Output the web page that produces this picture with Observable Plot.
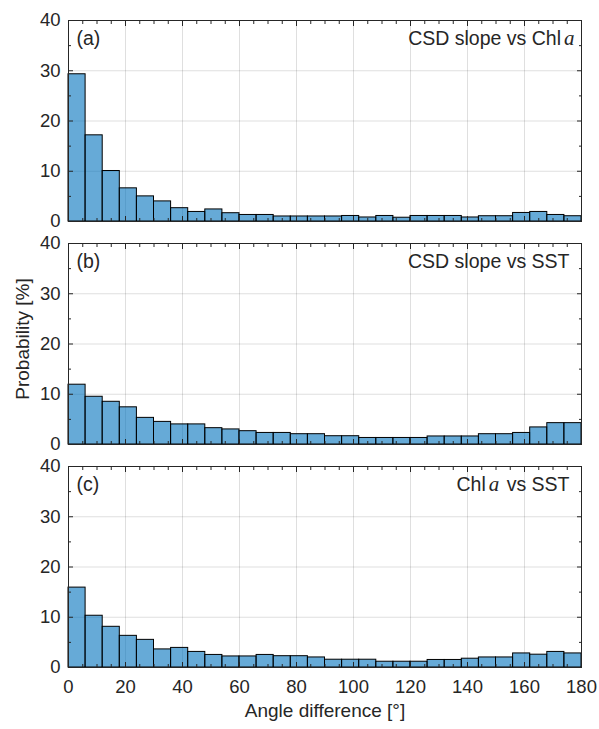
<!DOCTYPE html>
<html>
<head>
<meta charset="utf-8">
<script src="https://cdn.jsdelivr.net/npm/d3@7"></script>
<script src="https://cdn.jsdelivr.net/npm/@observablehq/plot@0.6"></script>
<style>
  html, body { margin: 0; padding: 0; background: #fff; }
</style>
</head>
<body>
<div id="chart"></div>
<script>
// ---------- data ----------
const panels = ["a", "b", "c"];
const panelTags = ["(a)", "(b)", "(c)"];
const panelTitles = ["CSD slope vs Chl|a", "CSD slope vs SST", "Chl|a| vs SST"];

const binStart = [0, 6, 12, 18, 24, 30, 36, 42, 48, 54, 60, 66, 72, 78, 84,
                  90, 96, 102, 108, 114, 120, 126, 132, 138, 144, 150, 156, 162, 168, 174];
const binWidth = 6;

// (a) CSD slope vs Chl a
const probA = [29.3, 17.15, 10.05, 6.6, 5.0, 4.0, 2.65, 1.9, 2.4, 1.65,
               1.3, 1.3, 1.0, 1.0, 1.0, 1.0, 1.1, 0.8, 1.1, 0.75,
               1.1, 1.1, 1.1, 0.8, 1.05, 1.05, 1.7, 1.9, 1.3, 1.05];
// (b) CSD slope vs SST
const probB = [11.9, 9.5, 8.5, 7.4, 5.3, 4.5, 4.0, 4.0, 3.25, 3.0,
               2.65, 2.3, 2.3, 2.05, 2.05, 1.65, 1.65, 1.3, 1.3, 1.3,
               1.3, 1.6, 1.6, 1.6, 2.05, 2.05, 2.3, 3.4, 4.25, 4.25];
// (c) Chl a vs SST
const probC = [15.9, 10.3, 8.1, 6.3, 5.5, 3.6, 3.9, 3.1, 2.5, 2.2,
               2.2, 2.5, 2.25, 2.25, 2.0, 1.55, 1.55, 1.55, 1.15, 1.15,
               1.15, 1.5, 1.5, 1.75, 2.0, 2.0, 2.8, 2.55, 3.1, 2.8];

const xMajorTicks = [0, 20, 40, 60, 80, 100, 120, 140, 160, 180];
const xMinorTicks = [5, 10, 15, 25, 30, 35, 45, 50, 55, 65, 70, 75, 85, 90, 95,
                     105, 110, 115, 125, 130, 135, 145, 150, 155, 165, 170, 175];
const yMajorTicks = [0, 10, 20, 30, 40];
const yGridTicks = [10, 20, 30];
const yMinorTicks = [5, 15, 25, 35];

const xLabel = "Angle difference [°]";
const yLabel = "Probability [%]";

// ---------- table ----------
const series = [probA, probB, probC];
const rows = panels.flatMap((p, i) =>
  series[i].map((v, j) => ({panel: p, x1: binStart[j], x2: binStart[j] + binWidth, p: v}))
);

// ---------- style ----------
const ink = "#262626";
const tickMarksX = (ticks, len) => [
  Plot.axisX(ticks, {anchor: "bottom", tickSize: len, dy: -len, fill: "none", label: null, stroke: ink, facetAnchor: null}),
  Plot.axisX(ticks, {anchor: "top", tickSize: len, dy: len, fill: "none", label: null, stroke: ink, facetAnchor: null})
];
const tickMarksY = (ticks, len) => [
  Plot.axisY(ticks, {anchor: "left", tickSize: len, dx: len, fill: "none", label: null, stroke: ink, facetAnchor: null}),
  Plot.axisY(ticks, {anchor: "right", tickSize: len, dx: -len, fill: "none", label: null, stroke: ink, facetAnchor: null})
];

const chart = Plot.plot({
  width: 599,
  height: 729,
  marginTop: 19,
  marginBottom: 61,
  marginLeft: 68,
  marginRight: 18,
  style: {
    fontFamily: "'Liberation Sans', Arial, Helvetica, sans-serif",
    fontSize: "18.5px",
    color: ink,
    background: "#fff"
  },
  x: {domain: [0, 180]},
  y: {domain: [0, 40]},
  fy: {domain: panels, axis: null, label: null, paddingInner: 0.1, paddingOuter: 0},
  marks: [
    Plot.gridX(xMajorTicks, {stroke: ink, strokeOpacity: 0.15, strokeWidth: 1, facetAnchor: null}),
    Plot.gridY(yGridTicks, {stroke: ink, strokeOpacity: 0.15, strokeWidth: 1, facetAnchor: null}),
    Plot.rect(rows, {
      x1: "x1", x2: "x2", y1: 0, y2: "p", fy: "panel",
      fill: "#0072BD", fillOpacity: 0.6, stroke: "#000", strokeWidth: 1
    }),
    Plot.frame({stroke: ink, strokeWidth: 1}),
    ...tickMarksX(xMajorTicks, 5),
    ...tickMarksX(xMinorTicks, 3),
    ...tickMarksY(yMajorTicks, 5),
    ...tickMarksY(yMinorTicks, 3),
    Plot.axisY(yMajorTicks, {anchor: "left", tickSize: 0, tickPadding: 8, label: null}),
    Plot.axisX(xMajorTicks, {anchor: "bottom", tickSize: 0, tickPadding: 12, label: null}),
    Plot.text(panels, {
      fy: d => d, text: (d, i) => panelTags[i],
      frameAnchor: "top-left", dx: 8, dy: 18, lineAnchor: "middle", fontSize: 19.5, fill: ink
    }),
    ...panels.map((p, i) => Plot.text([p], {
      fy: d => d, text: () => panelTitles[i],
      frameAnchor: "top-right", dx: i === 0 ? -7 : -12, dy: 18, lineAnchor: "middle", fontSize: 19.5, fill: ink
    })),
    Plot.text([panels[1]], {
      fy: d => d, text: () => yLabel,
      frameAnchor: "left", dx: -45.5, dy: -5, rotate: -90, textAnchor: "middle", lineAnchor: "middle", fontSize: 19, fill: ink
    }),
    Plot.text([panels[2]], {
      fy: d => d, text: () => xLabel,
      frameAnchor: "bottom", dy: 49, lineAnchor: "bottom", fontSize: 19, fill: ink
    })
  ]
});

// italic math "a" in titles (Chl a)
d3.select(chart).selectAll("text").each(function () {
  const t = this.textContent;
  if (!t.includes("|")) return;
  const parts = t.split("|");
  const sel = d3.select(this);
  sel.text(null);
  parts.forEach((s, k) => {
    const ts = sel.append("tspan").text(s);
    if (k % 2 === 1) {
      ts.attr("font-family", "'Liberation Serif', 'Times New Roman', serif")
        .attr("font-style", "italic").attr("font-size", "21px").attr("dx", 3);
    } else if (k > 0) {
      ts.attr("dx", 2);
    }
  });
});

document.getElementById("chart").appendChild(chart);
</script>
</body>
</html>
